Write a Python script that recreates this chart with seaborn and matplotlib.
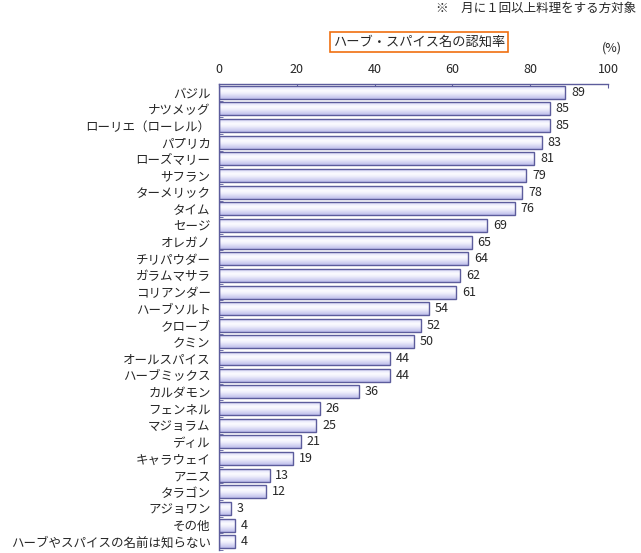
import numpy as np
import pandas as pd
import matplotlib
matplotlib.use("Agg")
import matplotlib.pyplot as plt
from matplotlib.colors import LinearSegmentedColormap
import seaborn as sns

# Daten
namen = ["バジル", "ナツメッグ", "ローリエ（ローレル）", "パプリカ", "ローズマリー",
         "サフラン", "ターメリック", "タイム", "セージ", "オレガノ", "チリパウダー",
         "ガラムマサラ", "コリアンダー", "ハーブソルト", "クローブ", "クミン",
         "オールスパイス", "ハーブミックス", "カルダモン", "フェンネル", "マジョラム",
         "ディル", "キャラウェイ", "アニス", "タラゴン", "アジョワン", "その他",
         "ハーブやスパイスの名前は知らない"]
werte = [89, 85, 85, 83, 81, 79, 78, 76, 69, 65, 64, 62, 61, 54, 52, 50,
         44, 44, 36, 26, 25, 21, 19, 13, 12, 3, 4, 4]
ticks = [0, 20, 40, 60, 80, 100]

df = pd.DataFrame({"name": namen, "wert": werte})

sns.set_style("white")
plt.rcParams["font.family"] = ["Noto Sans CJK JP", "DejaVu Sans"]

fig = plt.figure(figsize=(6.41, 5.53), dpi=100)
ax = fig.add_axes([219 / 641, 1 - 550 / 553, 389 / 641, 466 / 553])

sns.barplot(data=df, x="wert", y="name", ax=ax, color="white",
            edgecolor="#5c5c9c", linewidth=1.0, width=0.78, orient="h")

# Verlauf in die Balken
cmap = LinearSegmentedColormap.from_list(
    "grad", [(0, "#d8d8f8"), (0.35, "#fcfcff"), (0.55, "#f0f0fc"), (1, "#bcbcea")])
grad = np.linspace(0, 1, 64).reshape(-1, 1)
for p in ax.patches:
    x0, y0 = p.get_x(), p.get_y()
    w, h = p.get_width(), p.get_height()
    im = ax.imshow(grad, cmap=cmap, aspect="auto", origin="upper",
                   extent=(x0, x0 + w, y0 + h, y0), zorder=p.get_zorder() - 0.1)
    im.set_clip_path(p)
    p.set_facecolor("none")
    p.set_zorder(3)

for i, v in enumerate(werte):
    ax.text(v + 1.5, i, str(v), va="center", ha="left", fontsize=9)

ax.set_xlim(0, 100)
ax.set_ylim(len(namen) - 0.5, -0.5)
ax.xaxis.tick_top()
ax.set_xticks(ticks)
ax.set_xticklabels([str(t) for t in ticks], fontsize=9)
ax.tick_params(axis="x", direction="in", length=3, color="#5c5c9c", pad=6)
ax.tick_params(axis="y", length=0, labelsize=9, pad=6)
# kleine Striche zwischen den Balken
ax.set_yticks(np.arange(len(namen)) + 0.5, minor=True)
ax.tick_params(axis="y", which="minor", direction="in", length=3,
               color="#5c5c9c", left=True)
ax.set_xlabel("")
ax.set_ylabel("")
for s in ["right", "bottom"]:
    ax.spines[s].set_visible(False)
for s in ["top", "left"]:
    ax.spines[s].set_color("#5c5c9c")
    ax.spines[s].set_linewidth(1.0)

fig.text(636 / 641, 1 - 8 / 553, "※　月に１回以上料理をする方対象", ha="right",
         va="center", fontsize=9)
fig.text(419 / 641, 1 - 42 / 553, "ハーブ・スパイス名の認知率", ha="center",
         va="center", fontsize=9.5,
         bbox=dict(boxstyle="square,pad=0.25", fc="white", ec="#f07010", lw=1.2))
fig.text(612 / 641, 1 - 48 / 553, "(%)", ha="center", va="center", fontsize=9)

fig.savefig("out.png", dpi=100)
